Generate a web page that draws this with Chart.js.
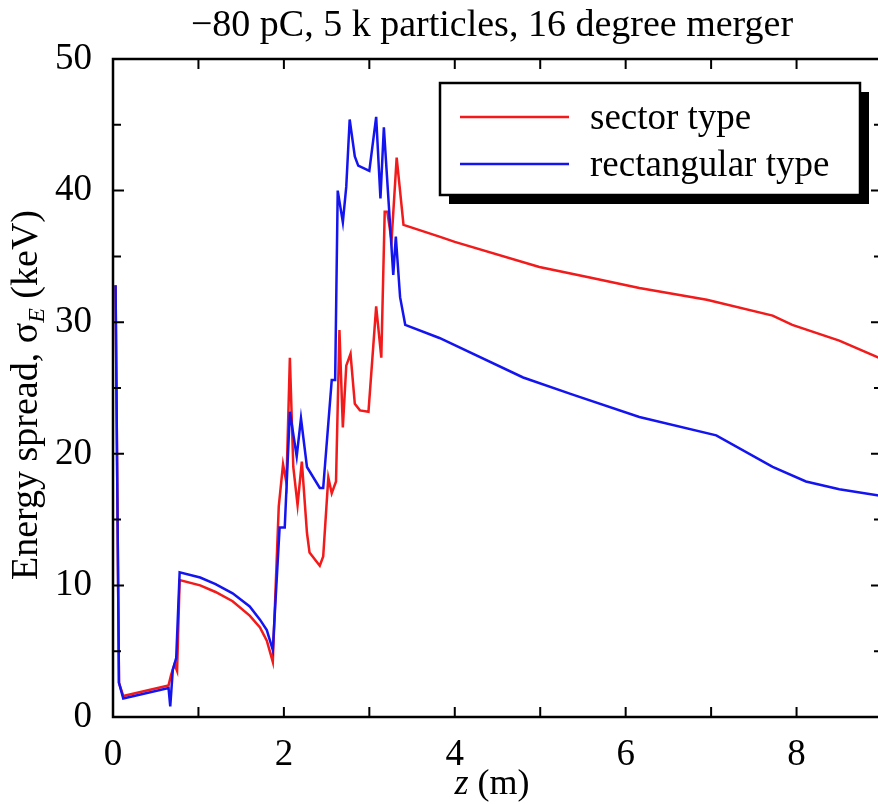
<!DOCTYPE html>
<html>
<head>
<meta charset="utf-8">
<script src="https://cdn.jsdelivr.net/npm/chart.js@4.4.0/dist/chart.umd.min.js"></script>
<style>
  html, body { margin: 0; padding: 0; background: #fff; overflow: hidden; }
  canvas { display: block; }
</style>
</head>
<body>
<canvas id="spreadChart" width="890" height="804"></canvas>
<script>
// sector type merger (red)
const zSector = [0.03, 0.07, 0.12, 0.65, 0.68, 0.72, 0.75, 0.78, 1.02, 1.2, 1.4, 1.6, 1.72, 1.80, 1.87,
  1.94, 1.99, 2.03, 2.07, 2.11, 2.16, 2.21, 2.27, 2.30, 2.42, 2.46, 2.52, 2.56, 2.61, 2.65, 2.69,
  2.73, 2.78, 2.83, 2.89, 2.99, 3.08, 3.14, 3.18, 3.21, 3.26, 3.32, 3.40, 3.82, 4.0, 4.99, 5.58,
  6.16, 6.95, 7.72, 7.95, 8.5, 9.0];
const eSector = [32.8, 2.6, 1.6, 2.4, 3.2, 4.0, 3.5, 10.4, 10.0, 9.5, 8.8, 7.7, 6.8, 5.8, 4.2,
  16.0, 19.2, 17.8, 27.3, 19.0, 16.1, 19.4, 14.0, 12.5, 11.5, 12.2, 18.2, 17.0, 17.9, 29.4, 22.0,
  26.7, 27.6, 23.8, 23.3, 23.2, 31.2, 27.3, 38.4, 38.4, 36.2, 42.5, 37.4, 36.5, 36.1, 34.2, 33.4,
  32.6, 31.7, 30.5, 29.8, 28.6, 27.2];

// rectangular type merger (blue)
const zRect = [0.03, 0.07, 0.12, 0.65, 0.67, 0.70, 0.74, 0.78, 1.02, 1.2, 1.4, 1.6, 1.72, 1.80, 1.87,
  1.95, 2.01, 2.07, 2.15, 2.20, 2.27, 2.42, 2.46, 2.56, 2.60, 2.63, 2.69, 2.73, 2.77, 2.83, 2.87,
  3.00, 3.08, 3.13, 3.17, 3.28, 3.31, 3.36, 3.42, 3.82, 4.80, 5.38, 6.16, 7.06, 7.72, 8.11, 8.5, 9.0];
const eRect = [32.8, 2.6, 1.4, 2.2, 0.8, 3.6, 4.5, 11.0, 10.6, 10.1, 9.4, 8.4, 7.4, 6.6, 5.1,
  14.4, 14.4, 23.2, 19.8, 22.7, 19.0, 17.4, 17.4, 25.6, 25.6, 40.0, 37.6, 40.3, 45.4, 42.6, 41.9,
  41.5, 45.6, 39.4, 44.8, 33.6, 36.5, 31.9, 29.8, 28.8, 25.8, 24.5, 22.8, 21.4, 19.0, 17.9, 17.3, 16.8];

const xTicks = [0, 2, 4, 6, 8];
const yTicks = [0, 10, 20, 30, 40, 50];
const seriesNames = ['sector type', 'rectangular type'];
const titleText = '\u221280 pC, 5 k particles, 16 degree merger';

const serif = '"Liberation Serif", "DejaVu Serif", serif';
const RED = '#f21a1a';
const BLUE = '#1414f0';

function points(xs, ys) {
  return xs.map((x, i) => ({ x: x, y: ys[i] }));
}

// frame, inward ticks, titles and legend box
const decor = {
  id: 'decor',
  afterDraw(chart) {
    const ctx = chart.ctx;
    const a = chart.chartArea;
    const sx = chart.scales.x, sy = chart.scales.y;
    ctx.save();
    ctx.strokeStyle = '#000';
    ctx.lineWidth = 2.5;
    ctx.strokeRect(a.left, a.top, a.right - a.left, a.bottom - a.top);

    ctx.lineWidth = 2;
    ctx.beginPath();
    for (let v = 0; v <= 9; v++) {
      const px = sx.getPixelForValue(v);
      ctx.moveTo(px, a.bottom); ctx.lineTo(px, a.bottom - 10);
      ctx.moveTo(px, a.top); ctx.lineTo(px, a.top + 10);
    }
    for (let v = 0; v <= 50; v += 5) {
      const py = sy.getPixelForValue(v);
      const len = v % 10 === 0 ? 11 : 8;
      ctx.moveTo(a.left, py); ctx.lineTo(a.left + len, py);
      ctx.moveTo(a.right, py); ctx.lineTo(a.right - len, py);
    }
    ctx.stroke();

    // title
    ctx.fillStyle = '#000';
    ctx.textAlign = 'center';
    ctx.textBaseline = 'alphabetic';
    ctx.font = '38px ' + serif;
    ctx.fillText(titleText, 492, 36);

    // x axis title: z (m)
    ctx.textAlign = 'left';
    ctx.font = 'italic 36px ' + serif;
    const wz = ctx.measureText('z').width;
    ctx.font = '36px ' + serif;
    const wm = ctx.measureText(' (m)').width;
    const x0 = 492 - (wz + wm) / 2;
    ctx.font = 'italic 36px ' + serif;
    ctx.fillText('z', x0, 794);
    ctx.font = '36px ' + serif;
    ctx.fillText(' (m)', x0 + wz, 794);

    // y axis title: Energy spread, sigma_E (keV)
    ctx.save();
    ctx.translate(37, 395);
    ctx.rotate(-Math.PI / 2);
    const p1 = 'Energy spread, ', p2 = '\u03c3', p3 = ' (keV)';
    ctx.font = '38px ' + serif;
    const w1 = ctx.measureText(p1).width;
    const w2 = ctx.measureText(p2).width;
    ctx.font = 'italic 24px ' + serif;
    const wE = ctx.measureText('E').width;
    ctx.font = '38px ' + serif;
    const w3 = ctx.measureText(p3).width;
    let cx = -(w1 + w2 + wE + w3) / 2;
    ctx.fillText(p1, cx, 0); cx += w1;
    ctx.fillText(p2, cx, 0); cx += w2;
    ctx.font = 'italic 24px ' + serif;
    ctx.fillText('E', cx, 7); cx += wE;
    ctx.font = '38px ' + serif;
    ctx.fillText(p3, cx, 0);
    ctx.restore();

    // legend with drop shadow
    const lx = 440, ly = 83, lw = 420, lh = 112;
    ctx.fillStyle = '#000';
    ctx.fillRect(lx + 9, ly + 9, lw, lh);
    ctx.fillStyle = '#fff';
    ctx.fillRect(lx, ly, lw, lh);
    ctx.lineWidth = 2.5;
    ctx.strokeRect(lx, ly, lw, lh);
    const cols = [RED, BLUE];
    const rows = [117, 164];
    ctx.font = '37px ' + serif;
    ctx.textBaseline = 'middle';
    ctx.textAlign = 'left';
    seriesNames.forEach((name, i) => {
      ctx.strokeStyle = cols[i];
      ctx.lineWidth = 2.5;
      ctx.beginPath();
      ctx.moveTo(460, rows[i]); ctx.lineTo(569, rows[i]);
      ctx.stroke();
      ctx.fillStyle = '#000';
      ctx.fillText(name, 590, rows[i] + 2);
    });
    ctx.restore();
  }
};

new Chart(document.getElementById('spreadChart'), {
  type: 'line',
  data: {
    datasets: [
      {
        label: seriesNames[1],
        data: points(zRect, eRect),
        borderColor: BLUE,
        borderWidth: 2.5,
        pointRadius: 0,
        tension: 0,
        order: 0
      },
      {
        label: seriesNames[0],
        data: points(zSector, eSector),
        borderColor: RED,
        borderWidth: 2.5,
        pointRadius: 0,
        tension: 0,
        order: 1
      }
    ]
  },
  options: {
    responsive: false,
    animation: false,
    layout: { padding: { left: 0, top: 59, right: 8, bottom: 0 } },
    plugins: {
      legend: { display: false },
      title: { display: false },
      tooltip: { enabled: false }
    },
    scales: {
      x: {
        type: 'linear',
        min: 0,
        max: 9,
        afterBuildTicks: (s) => { s.ticks = xTicks.map(v => ({ value: v })); },
        afterFit: (s) => { s.height = 87; },
        grid: { display: false },
        border: { display: false },
        ticks: { color: '#000', padding: 8, maxRotation: 0, font: { family: serif, size: 37 } }
      },
      y: {
        min: 0,
        max: 50,
        afterBuildTicks: (s) => { s.ticks = yTicks.map(v => ({ value: v })); },
        afterFit: (s) => { s.width = 113; },
        grid: { display: false },
        border: { display: false },
        ticks: { color: '#000', padding: 13, font: { family: serif, size: 37 } }
      }
    }
  },
  plugins: [decor]
});
</script>
</body>
</html>
